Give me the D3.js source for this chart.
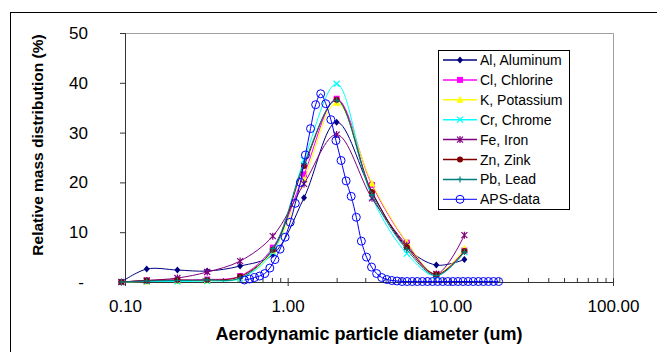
<!DOCTYPE html>
<html>
<head>
<meta charset="utf-8">
<script src="https://cdn.jsdelivr.net/npm/d3@7"></script>
<style>
  body { margin: 0; background: #fff; }
  svg { display: block; font-family: Arial, "Liberation Sans", sans-serif; }
</style>
</head>
<body>
<svg id="chart" width="657" height="352"></svg>
<script>
// impactor stage mid diameters (um)
const stageDiam = [0.095, 0.136, 0.21, 0.32, 0.51, 0.81, 1.26, 2.0, 3.3, 5.4, 8.2, 12.2];

const alData = [0, 2.6, 2.4, 2.2, 3.2, 5.5, 16.9, 32.1, 18.0, 6.9, 3.4, 4.5];
const clData = [0, 0.3, 0.4, 0.5, 1.2, 6.9, 21.6, 36.8, 19.5, 7.9, 1.5, 6.3];
const kData  = [0, 0.1, 0.2, 0.3, 0.8, 6.2, 20.5, 36.0, 19.8, 8.0, 1.6, 6.7];
const crData = [0, 0.1, 0.1, 0.2, 0.7, 6.0, 24.5, 39.8, 17.0, 5.7, 1.2, 6.0];
const feData = [0, 0.3, 0.8, 2.0, 4.2, 9.2, 19.7, 29.6, 16.8, 7.4, 1.6, 9.4];
const znData = [0, 0.3, 0.4, 0.4, 1.1, 6.5, 23.3, 36.6, 18.0, 7.0, 1.5, 6.2];
const pbData = [0, 0.2, 0.3, 0.4, 0.8, 6.7, 23.8, 36.5, 17.5, 6.5, 1.3, 6.0];

// APS channels (um) and values
const apsDiam = [0.542, 0.583, 0.626, 0.673, 0.723, 0.777, 0.835, 0.898, 0.965, 1.037,
  1.114, 1.197, 1.286, 1.382, 1.486, 1.596, 1.715, 1.843, 1.981, 2.129,
  2.288, 2.458, 2.642, 2.839, 3.051, 3.278, 3.523, 3.786, 4.068, 4.371,
  4.698, 5.048, 5.425, 5.829, 6.264, 6.732, 7.234, 7.774, 8.354, 8.977,
  9.647, 10.37, 11.14, 11.97, 12.86, 13.82, 14.86, 15.96, 17.15, 18.43, 19.81];
const apsData = [0.4, 0.6, 0.9, 1.2, 1.7, 2.8, 4.5, 6.6, 9.0, 12.0,
  15.8, 20.0, 25.5, 30.8, 35.6, 37.8, 35.8, 32.6, 28.4, 24.4,
  20.3, 17.2, 13.0, 8.2, 5.0, 3.0, 1.7, 0.9, 0.5, 0.3,
  0.2, 0.1, 0.1, 0.1, 0.1, 0.1, 0.1, 0.1, 0.1, 0.1,
  0.1, 0.1, 0.1, 0.1, 0.1, 0.1, 0.1, 0.1, 0.1, 0.1, 0.1];

const seriesNames = ['Al, Aluminum', 'Cl, Chlorine', 'K, Potassium', 'Cr, Chrome',
  'Fe, Iron', 'Zn, Zink', 'Pb, Lead', 'APS-data'];
const xTicks = [0.1, 1, 10, 100];
const yTicks = [0, 10, 20, 30, 40, 50];

const series = [
  {name: seriesNames[0], xs: stageDiam, ys: alData, color: '#000080', marker: 'diamond'},
  {name: seriesNames[1], xs: stageDiam, ys: clData, color: '#ff00ff', marker: 'square'},
  {name: seriesNames[2], xs: stageDiam, ys: kData,  color: '#ffff00', marker: 'triangle'},
  {name: seriesNames[3], xs: stageDiam, ys: crData, color: '#00ffff', marker: 'x'},
  {name: seriesNames[4], xs: stageDiam, ys: feData, color: '#800080', marker: 'star'},
  {name: seriesNames[5], xs: stageDiam, ys: znData, color: '#800000', marker: 'circle'},
  {name: seriesNames[6], xs: stageDiam, ys: pbData, color: '#008080', marker: 'plus'},
  {name: seriesNames[7], xs: apsDiam,  ys: apsData, color: '#0000ff', marker: 'open'}
];

const svg = d3.select('#chart');
const plotL = 125, plotR = 613, plotT = 33, plotB = 282;

const x = d3.scaleLog().domain([0.1, 100]).range([plotL, plotR]);
const y = d3.scaleLinear().domain([0, 50]).range([plotB, plotT]);

// outer chart frame
svg.append('rect')
  .attr('x', 10.5).attr('y', 12.5)
  .attr('width', 700).attr('height', 400)
  .attr('fill', 'none').attr('stroke', '#000');

// plot area border (top/right in grey)
svg.append('path')
  .attr('d', `M${plotL},${plotT + 0.5}H${plotR + 0.5}V${plotB}`)
  .attr('fill', 'none').attr('stroke', '#a0a0a0');

// x axis
const minorTicks = [];
[0.1, 1, 10].forEach(dec => {
  for (let k = 2; k <= 9; k++) minorTicks.push(dec * k);
});

svg.append('g')
  .attr('class', 'x-axis')
  .attr('transform', `translate(0,${plotB})`)
  .call(d3.axisBottom(x).tickValues(xTicks).tickFormat(d3.format('.2f')).tickSize(4).tickPadding(14));
svg.append('g')
  .attr('transform', `translate(0,${plotB})`)
  .call(d3.axisTop(x).tickValues(xTicks.concat(minorTicks)).tickFormat('').tickSize(4));

// y axis
svg.append('g')
  .attr('class', 'y-axis')
  .attr('transform', `translate(${plotL},0)`)
  .call(d3.axisLeft(y).tickValues(yTicks).tickFormat(d => d === 0 ? '-' : d).tickSize(5).tickPadding(32));

svg.selectAll('.domain').attr('stroke', '#333');
svg.selectAll('.tick line').attr('stroke', '#333');
svg.selectAll('.tick text').attr('font-size', 17).attr('fill', '#000')
  .attr('font-family', 'Arial, "Liberation Sans", sans-serif');
svg.selectAll('.y-axis .tick text').filter(d => d === 0).attr('dx', -4);

// axis titles
svg.append('text')
  .attr('x', (plotL + plotR) / 2).attr('y', 340)
  .attr('text-anchor', 'middle')
  .attr('font-size', 18).attr('font-weight', 'bold')
  .text('Aerodynamic particle diameter (um)');

svg.append('text')
  .attr('transform', `translate(43,145) rotate(-90)`)
  .attr('text-anchor', 'middle')
  .attr('font-size', 15.5).attr('font-weight', 'bold')
  .text('Relative mass distribution (%)');

function drawMarker(g, type, color, cx, cy) {
  const s = 3;
  if (type === 'diamond') {
    g.append('path').attr('d', `M${cx},${cy - s - 0.5}L${cx + s},${cy}L${cx},${cy + s + 0.5}L${cx - s},${cy}Z`).attr('fill', color);
  } else if (type === 'square') {
    g.append('rect').attr('x', cx - s).attr('y', cy - s).attr('width', 2 * s).attr('height', 2 * s).attr('fill', color);
  } else if (type === 'triangle') {
    g.append('path').attr('d', `M${cx},${cy - s - 1}L${cx + s + 0.5},${cy + s}L${cx - s - 0.5},${cy + s}Z`).attr('fill', color);
  } else if (type === 'x') {
    g.append('path').attr('d', `M${cx - s},${cy - s}L${cx + s},${cy + s}M${cx - s},${cy + s}L${cx + s},${cy - s}`).attr('stroke', color).attr('stroke-width', 1.2);
  } else if (type === 'star') {
    g.append('path').attr('d', `M${cx - s},${cy - s}L${cx + s},${cy + s}M${cx - s},${cy + s}L${cx + s},${cy - s}M${cx},${cy - s - 0.5}V${cy + s + 0.5}`).attr('stroke', color).attr('stroke-width', 1.2);
  } else if (type === 'circle') {
    g.append('circle').attr('cx', cx).attr('cy', cy).attr('r', s).attr('fill', color);
  } else if (type === 'plus') {
    g.append('path').attr('d', `M${cx - s},${cy}H${cx + s}M${cx},${cy - s}V${cy + s}`).attr('stroke', color).attr('stroke-width', 1.2);
  } else if (type === 'open') {
    g.append('circle').attr('cx', cx).attr('cy', cy).attr('r', 4).attr('fill', 'none').attr('stroke', color).attr('stroke-width', 1);
  }
}

const line = d3.line()
  .x(d => x(d[0]))
  .y(d => y(d[1]))
  .curve(d3.curveCatmullRom.alpha(0.5));

const plot = svg.append('g').attr('class', 'series');

series.forEach(s => {
  const pts = s.xs.map((v, i) => [v, s.ys[i]]);
  const g = plot.append('g');
  g.append('path')
    .datum(pts)
    .attr('d', line)
    .attr('fill', 'none')
    .attr('stroke', s.color)
    .attr('stroke-width', 1);
  pts.forEach(p => drawMarker(g, s.marker, s.color, x(p[0]), y(p[1])));
});

// legend
const legend = svg.append('g').attr('class', 'legend');
legend.append('rect')
  .attr('x', 438.5).attr('y', 50.5)
  .attr('width', 131).attr('height', 159)
  .attr('fill', '#fff').attr('stroke', '#000');

series.forEach((s, i) => {
  const ly = 60 + i * 19.9;
  const g = legend.append('g');
  g.append('line')
    .attr('x1', 443).attr('x2', 477)
    .attr('y1', ly).attr('y2', ly)
    .attr('stroke', s.color).attr('stroke-width', s.marker === 'open' ? 1 : 1.5);
  drawMarker(g, s.marker, s.color, 460, ly);
  g.append('text')
    .attr('x', 480).attr('y', ly + 5)
    .attr('font-size', 14)
    .text(s.name);
});
</script>
</body>
</html>
